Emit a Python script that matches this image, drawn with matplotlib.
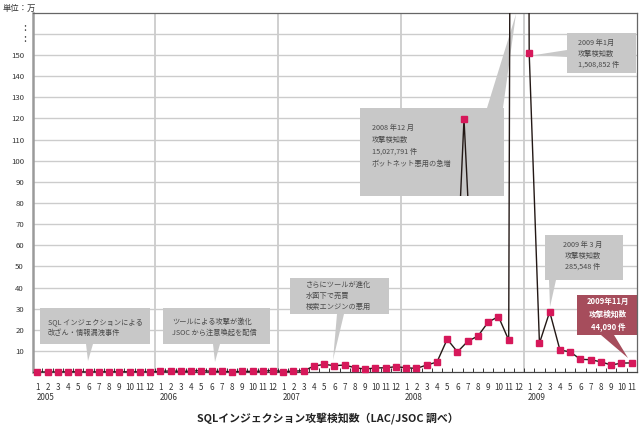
import matplotlib
matplotlib.use("Agg")
import numpy as np
from matplotlib import pyplot as plt
from matplotlib.patches import Rectangle, Polygon
from matplotlib.ticker import FixedLocator

plt.rcParams['font.family'] = ['Noto Sans CJK JP', 'DejaVu Sans']

# monthly SQL injection detections, unit: 10,000 (万), Jan 2005 .. Nov 2009
years = [2005, 2006, 2007, 2008, 2009]
months = list(range(1, 13)) * 4 + list(range(1, 12))
counts_2005 = [0.1, 0.1, 0.1, 0.2, 0.2, 0.1, 0.2, 0.2, 0.2, 0.2, 0.2, 0.1]
counts_2006 = [0.4, 0.6, 0.4, 0.5, 0.8, 0.4, 0.4, 0.2, 0.4, 0.4, 0.5, 0.8]
counts_2007 = [0.3, 0.5, 0.7, 2.9, 3.7, 3.1, 3.4, 2.1, 1.5, 2.0, 2.1, 2.6]
counts_2008 = [2.1, 1.8, 3.4, 4.8, 15.6, 9.6, 14.6, 17.1, 23.7, 26.3, 15.2, 1502.8]
counts_2009 = [150.9, 13.7, 28.6, 10.5, 9.6, 6.1, 5.9, 4.9, 3.4, 4.3, 4.4]
counts = counts_2005 + counts_2006 + counts_2007 + counts_2008 + counts_2009

y_ticks = list(range(10, 161, 10))
y_labels = [str(v) if v <= 150 else "" for v in y_ticks]

LINE = "#231815"
MARK = "#d6185a"
GRID = "#cccccc"
BOX = "#c8c8c8"
BOX_TXT = "#4a4a4a"
HOT = "#a64d5c"

W, H = 644, 430
fig = plt.figure(figsize=(W / 100, H / 100), dpi=100)
ax = fig.add_axes([33 / W, (H - 372.2) / H, 604 / W, 359.2 / H])

x = np.arange(len(counts))
ax.set_xlim(-0.42, 58.52)
ax.set_ylim(0, 169.9)

ax.set_yticks(y_ticks)
ax.set_yticklabels(y_labels)
ax.yaxis.grid(True, color=GRID, lw=1.0)
ax.set_axisbelow(True)
ax.tick_params(axis="y", length=0, pad=6.5, labelsize=5.6, labelcolor="#333333")

ax.set_xticks(x)
ax.set_xticklabels([str(m) for m in months])
ax.tick_params(axis="x", which="major", length=0, pad=8, labelsize=5.8, labelcolor="#333333")
ax.xaxis.set_minor_locator(FixedLocator(x[:-1] + 0.5))
ax.tick_params(axis="x", which="minor", direction="in", length=3, width=0.7, color="#333333")

# year separators and labels
for i, m in enumerate(months):
    if m == 1:
        if i > 0:
            ax.axvline(i - 0.5, color=GRID, lw=1.3, zorder=0.5)
        ax.text(i - 0.1, -0.071, str(years[i // 12]), transform=ax.get_xaxis_transform(),
                ha="left", va="center", fontsize=5.8, color="#333333")

ax.spines["left"].set_color("#9a9a9a")
ax.spines["left"].set_linewidth(1.8)
for s in ("top", "right"):
    ax.spines[s].set_color("#666666")
    ax.spines[s].set_linewidth(0.9)
ax.spines["bottom"].set_color("#444444")
ax.spines["bottom"].set_linewidth(0.9)

ax.plot(x, counts, color=LINE, lw=1.0, zorder=3)
ax.plot(x, counts, ls="none", marker="s", ms=3.8, mfc=MARK, mec=MARK, clip_on=False, zorder=4)

inv = ax.transData.inverted()


def px(xp, yp):
    # reference pixel (from top-left) -> data coords
    return inv.transform((xp, H - yp))


def callout(box, wedge, tip, fc=BOX):
    x0, y0 = px(box[0], box[3])
    x1, y1 = px(box[2], box[1])
    ax.add_patch(Rectangle((x0, y0), x1 - x0, y1 - y0, fc=fc, ec="none", zorder=2.5))
    pts = [px(*wedge[0]), px(*wedge[1]), px(*tip)]
    ax.add_patch(Polygon(pts, closed=True, fc=fc, ec="none", zorder=2.5))


def note(xp, yp, s, ha="left", color=BOX_TXT, size=5.2, weight="normal", ls=1.55):
    xd, yd = px(xp, yp)
    ax.text(xd, yd, s, ha=ha, va="center", fontsize=size, color=color,
            fontweight=weight, linespacing=ls, zorder=6)


callout((40, 308, 150, 344), ((86, 344), (93, 344)), (88, 361))
note(48, 327.5, "SQL インジェクションによる\n改ざん・情報漏洩事件")

callout((163, 308, 270, 344), ((213, 344), (220, 344)), (215, 362))
note(172, 327.5, "ツールによる攻撃が激化\nJSOC から注意喚起を配信")

callout((290, 278, 389, 314), ((337, 314), (344, 314)), (333, 360))
note(306, 296, "さらにツールが進化\n水面下で売買\n検索エンジンの悪用", ls=1.5)

callout((360, 108, 504, 196), ((487, 108), (503, 108)), (516, 14))
note(372, 146, "2008 年12 月\n攻撃検知数\n15,027,791 件\nボットネット悪用の急増", ls=1.65)

callout((567, 33, 636, 73), ((567, 50), (567, 57)), (535, 55))
note(578, 53.7, "2009 年1月\n攻撃検知数\n1,508,852 件", ls=1.45)

callout((545, 235, 623, 280), ((549, 280), (556, 280)), (550, 307))
note(583, 255.5, "2009 年 3 月\n攻撃検知数\n285,548 件", ha="center", ls=1.45)

callout((577, 295, 640, 335), ((601, 335), (614, 335)), (628, 358), fc=HOT)
note(608, 314, "2009年11月\n攻撃検知数\n44,090 件", ha="center", color="white",
     size=5.5, weight="bold", ls=1.45)

# the off-scale December 2008 peak, redrawn inside its callout
peak = counts_2008[-1]
k = 47
iax = fig.add_axes([454 / W, (H - 196) / H, 20 / W, 79 / H])
iax.plot(x[k - 1:k + 2], counts[k - 1:k + 2], color=LINE, lw=1.0)
iax.plot([x[k]], [counts[k]], ls="none", marker="s", ms=3.8, mfc=MARK, mec=MARK, clip_on=False)
iax.set_xlim(k - 10 / 10.248, k + 10 / 10.248)
iax.set_ylim(peak - 500, peak + 500 * 2 / 77)
iax.axis("off")

fig.text(3 / W, 1 - 8 / H, "単位：万", ha="left", va="center", fontsize=6, color="#333333")
fig.text(25 / W, 1 - 33.5 / H, ":\n:", ha="center", va="center", fontsize=8,
         linespacing=1.17, color="#444444")
fig.text(328 / W, 1 - 418 / H, "SQLインジェクション攻撃検知数（LAC/JSOC 調べ）",
         ha="center", va="center", fontsize=7.8, fontweight="bold", color="#222222")

fig.savefig("out.png", dpi=100)
